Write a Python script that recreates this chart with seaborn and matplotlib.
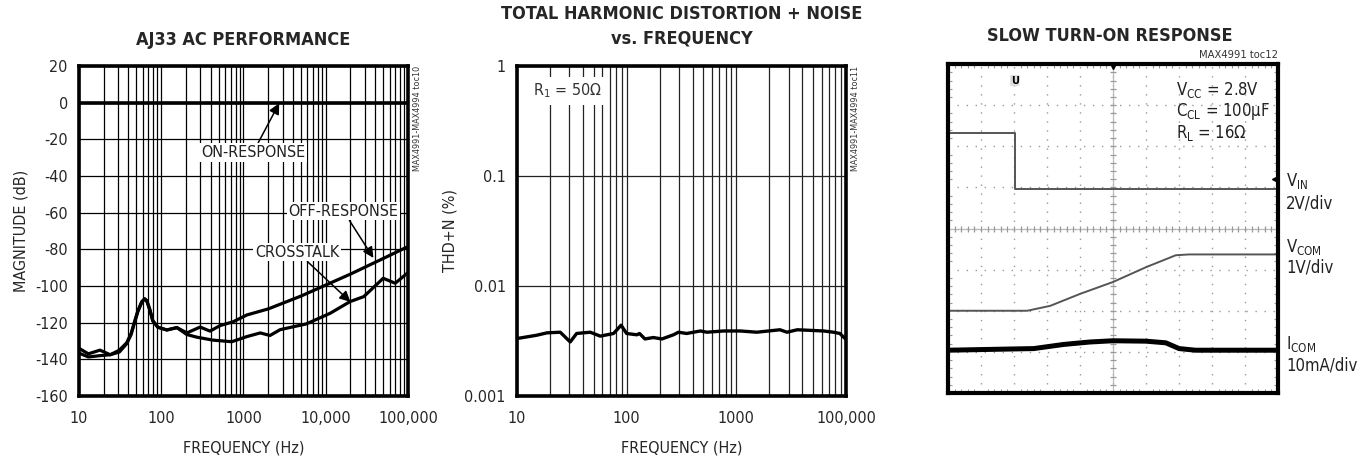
import numpy as np
import pandas as pd
import matplotlib
matplotlib.use("Agg")
import matplotlib.pyplot as plt
import matplotlib.ticker as mticker
from matplotlib import font_manager
import seaborn as sns

# ---- data ----
# AJ33 AC performance
on_freq = [10, 100000]
on_db = [0, 0]
off_freq = [10, 13, 18, 24, 31, 38, 43, 47, 52, 58, 63, 67, 73, 79, 91, 117, 155, 205, 297,
            392, 520, 750, 1100, 2000, 5000, 10000, 20000, 50000, 100000]
off_db = [-134, -137, -135, -137.5, -135, -131, -126, -120, -113.5, -108.5, -107, -108,
          -113, -119, -122.5, -124, -122.7, -125.6, -122.4, -124.6, -121.6, -119.5, -115.8,
          -112.5, -105.5, -99.5, -93.5, -85, -78.5]
xt_freq = [10, 13, 18, 24, 31, 38, 43, 47, 52, 58, 63, 67, 73, 79, 91, 117, 155, 205, 270,
           420, 720, 1100, 1600, 2100, 2800, 5800, 11300, 19800, 29000, 50000, 70000, 100000]
xt_db = [-136.6, -138.7, -138, -137.5, -136, -131.5, -126.5, -120.5, -114, -109, -107,
         -108.5, -113.5, -119, -122.5, -124, -122.7, -126.5, -127.9, -129.5, -130.4, -127.6,
         -125.6, -127, -123.8, -120.7, -114.9, -108.5, -105.8, -95.8, -98.5, -92.7]
mag_xticks = [10, 100, 1000, 10000, 100000]
mag_xlabels = ["10", "100", "1000", "10,000", "100,000"]
mag_yticks = [20, 0, -20, -40, -60, -80, -100, -120, -140, -160]

# THD+N vs frequency
thd_freq = [10, 15, 18.8, 24.8, 30.6, 35, 46.6, 57.5, 76, 89, 100, 124, 131, 147, 175, 210,
            267, 297, 353, 470, 540, 765, 1083, 1540, 2500, 2900, 3600, 6250, 7700, 8800, 9900]
thd_pct = [0.00333, 0.00356, 0.00375, 0.0038, 0.0031, 0.0037, 0.0038, 0.0035, 0.0037, 0.0044,
           0.0037, 0.0036, 0.0037, 0.0033, 0.0034, 0.0033, 0.0036, 0.0038, 0.0037, 0.0039,
           0.0038, 0.0039, 0.0039, 0.0038, 0.004, 0.0038, 0.004, 0.0039, 0.0038, 0.0037, 0.0033]
thd_xticks = [10, 100, 1000, 10000]
thd_xlabels = ["10", "100", "1000", "100,000"]
thd_yticks = [0.001, 0.01, 0.1, 1]
thd_ylabels = ["0.001", "0.01", "0.1", "1"]

# slow turn-on scope traces (divisions)
vin_t = [0, 2.02, 2.02, 10]
vin_v = [6.33, 6.33, 4.96, 4.96]
vcom_t = [0, 2.4, 3.1, 4.0, 5.0, 6.0, 6.9, 7.3, 10]
vcom_v = [2.0, 2.0, 2.12, 2.41, 2.7, 3.06, 3.35, 3.37, 3.37]
icom_t = [0, 2.6, 3.5, 4.3, 5.0, 6.0, 6.6, 7.0, 7.5, 10]
icom_v = [1.04, 1.08, 1.18, 1.24, 1.27, 1.26, 1.22, 1.08, 1.04, 1.04]


def find_narrow():
    # look for any installed narrow / condensed sans face
    for f in font_manager.fontManager.ttflist:
        key = (f.fname + " " + f.name).lower()
        if ("narrow" in key or "condensed" in key) and "serif" not in key \
                and "mono" not in key and f.style == "normal":
            return f.name, f.stretch
    return None, None


sns.set_style("white")
nname, nstretch = find_narrow()
if nname:
    plt.rcParams["font.family"] = [nname, "Liberation Sans", "DejaVu Sans"]
    plt.rcParams["font.stretch"] = nstretch
    FS, TFS = 11.5, 13
    base = nname
else:
    plt.rcParams["font.family"] = ["Liberation Sans", "DejaVu Sans"]
    FS, TFS = 11, 12.5
    base = "Liberation Sans"
plt.rcParams["mathtext.fontset"] = "custom"
plt.rcParams["mathtext.rm"] = base
plt.rcParams["axes.unicode_minus"] = False

fig = plt.figure(figsize=(13.64, 4.58), dpi=100)
ax1 = fig.add_axes([0.0579, 0.1354, 0.2412, 0.7205])
ax2 = fig.add_axes([0.3790, 0.1354, 0.2412, 0.7205])
ax3 = fig.add_axes([0.6950, 0.1420, 0.2420, 0.7180])


def frame(ax, lw=2.6):
    for s in ax.spines.values():
        s.set_visible(True)
        s.set_color("black")
        s.set_linewidth(lw)
        s.set_zorder(5)


# ---------- panel 1 ----------
d_on = pd.DataFrame({"f": on_freq, "db": on_db})
d_off = pd.DataFrame({"f": off_freq, "db": off_db})
d_xt = pd.DataFrame({"f": xt_freq, "db": xt_db})
ax1.set_xscale("log")
for d, w in [(d_on, 2.6), (d_off, 2.3), (d_xt, 2.3)]:
    sns.lineplot(data=d, x="f", y="db", color="black", lw=w, ax=ax1, estimator=None)
ax1.set_xlim(10, 100000)
ax1.set_ylim(-160, 20)
ax1.xaxis.set_major_locator(mticker.FixedLocator(mag_xticks))
ax1.xaxis.set_minor_locator(mticker.LogLocator(base=10, subs=np.arange(2, 10)))
ax1.xaxis.set_minor_formatter(mticker.NullFormatter())
ax1.set_xticklabels(mag_xlabels)
ax1.set_yticks(mag_yticks)
ax1.grid(True, which="both", axis="x", color="black", lw=0.9)
ax1.grid(True, which="major", axis="y", color="black", lw=0.9)
ax1.tick_params(which="both", length=0, labelsize=FS, pad=8)
ax1.tick_params(axis="x", pad=11)
ax1.set_xlabel("FREQUENCY (Hz)", fontsize=FS, labelpad=10)
ax1.set_ylabel("MAGNITUDE (dB)", fontsize=FS, labelpad=5)
ax1.set_title("AJ33 AC PERFORMANCE", fontsize=TFS, fontweight="bold", pad=15)
frame(ax1)
box = dict(boxstyle="square,pad=0.12", fc="white", ec="none")
arw = dict(arrowstyle="-|>", color="black", lw=1.1, mutation_scale=16, shrinkA=0, shrinkB=0)
ax1.annotate("ON-RESPONSE", xy=(2720, -0.3), xytext=(1313, -27), ha="center", va="center",
             fontsize=FS, color="#222", bbox=box, arrowprops=arw, zorder=6)
ax1.annotate("OFF-RESPONSE", xy=(38000, -84.7), xytext=(16400, -59.1), ha="center",
             va="center", fontsize=FS, color="#222", bbox=box, arrowprops=arw, zorder=6)
ax1.annotate("CROSSTALK", xy=(20000, -108.7), xytext=(4520, -81.5), ha="center",
             va="center", fontsize=FS, color="#222", bbox=box, arrowprops=arw, zorder=6)
ax1.text(1.028, 1.0, "MAX4991-MAX4994 toc10", transform=ax1.transAxes, rotation=90,
         ha="center", va="top", fontsize=6.5, color="#333")

# ---------- panel 2 ----------
d_thd = pd.DataFrame({"f": thd_freq, "p": thd_pct})
ax2.set_xscale("log")
ax2.set_yscale("log")
sns.lineplot(data=d_thd, x="f", y="p", color="black", lw=2.4, ax=ax2, estimator=None)
ax2.set_xlim(10, 10000)
ax2.set_ylim(0.001, 1)
ax2.xaxis.set_major_locator(mticker.FixedLocator(thd_xticks))
ax2.xaxis.set_minor_locator(mticker.LogLocator(base=10, subs=np.arange(2, 10)))
ax2.xaxis.set_minor_formatter(mticker.NullFormatter())
ax2.set_xticklabels(thd_xlabels)
ax2.yaxis.set_major_locator(mticker.FixedLocator(thd_yticks))
ax2.yaxis.set_minor_locator(mticker.NullLocator())
ax2.set_yticklabels(thd_ylabels)
ax2.grid(True, which="both", axis="x", color="#222", lw=0.9)
ax2.grid(True, which="major", axis="y", color="#222", lw=0.9)
ax2.tick_params(which="both", length=0, labelsize=FS, pad=8)
ax2.tick_params(axis="x", pad=11)
ax2.set_xlabel("FREQUENCY (Hz)", fontsize=FS, labelpad=10)
ax2.set_ylabel("THD+N (%)", fontsize=FS, labelpad=5)
ax2.set_title("TOTAL HARMONIC DISTORTION + NOISE\nvs. FREQUENCY", fontsize=TFS,
              fontweight="bold", pad=16, linespacing=1.45)
frame(ax2)
ax2.text(0.05, 0.925, r"R$_{\mathregular{1}}$ = 50Ω", transform=ax2.transAxes, ha="left",
         va="center", fontsize=FS, color="#333",
         bbox=dict(boxstyle="square,pad=0.3", fc="white", ec="none"), zorder=6)
ax2.text(1.028, 1.0, "MAX4991-MAX4994 toc11", transform=ax2.transAxes, rotation=90,
         ha="center", va="top", fontsize=6.5, color="#333")

# ---------- panel 3 ----------
d_vin = pd.DataFrame({"t": vin_t, "v": vin_v})
d_vcom = pd.DataFrame({"t": vcom_t, "v": vcom_v})
d_icom = pd.DataFrame({"t": icom_t, "v": icom_v})
sns.lineplot(data=d_vin, x="t", y="v", color="#555", lw=1.4, ax=ax3, sort=False, estimator=None)
sns.lineplot(data=d_vcom, x="t", y="v", color="#555", lw=1.4, ax=ax3, sort=False, estimator=None)
sns.lineplot(data=d_icom, x="t", y="v", color="black", lw=3.6, ax=ax3, sort=False, estimator=None)
ax3.set_xlim(0, 10)
ax3.set_ylim(0, 8)
ax3.set_xticks(range(11))
ax3.set_yticks(range(9))
ax3.xaxis.set_minor_locator(mticker.MultipleLocator(0.2))
ax3.yaxis.set_minor_locator(mticker.MultipleLocator(0.2))
ax3.grid(True, which="major", color="#999", lw=1.0, ls=(0, (1, 5.5)))
ax3.axvline(5, color="#bbb", lw=0.9, zorder=1)
ax3.axhline(4, color="#bbb", lw=0.9, zorder=1)
ax3.plot(np.arange(0, 10.01, 0.2), np.full(51, 4.0), ls="none", marker="|", ms=5,
         color="#999", mew=0.9, zorder=1)
ax3.plot(np.full(41, 5.0), np.arange(0, 8.01, 0.2), ls="none", marker="_", ms=5,
         color="#999", mew=0.9, zorder=1)
ax3.tick_params(which="both", direction="in", top=True, right=True, bottom=True,
                left=True, labelbottom=False, labelleft=False, color="#999")
ax3.tick_params(which="major", length=0)
ax3.tick_params(which="minor", length=3, width=0.8)
ax3.set_xlabel("")
ax3.set_ylabel("")
ax3.set_title("SLOW TURN-ON RESPONSE", fontsize=TFS, fontweight="bold", pad=17, x=0.49)
frame(ax3, lw=3.0)
ax3.text(1.0, 1.012, "MAX4991 toc12", transform=ax3.transAxes, ha="right", va="bottom",
         fontsize=8, color="#333")
ax3.plot([5], [7.95], marker="v", ms=5, color="black", clip_on=False, zorder=6)
ax3.plot([9.9], [5.2], marker="<", ms=5, color="black", clip_on=False, zorder=6)
ax3.text(2.02, 7.6, "U", ha="center", va="center", fontsize=8, fontweight="bold",
         color="black", bbox=dict(boxstyle="round,pad=0.05", fc="#ddd", ec="none"))
info = [r"V$_{\mathregular{CC}}$ = 2.8V", r"C$_{\mathregular{CL}}$ = 100µF",
        r"R$_{\mathregular{L}}$ = 16Ω"]
for k, s in enumerate(info):
    ax3.text(0.69, 0.922 - 0.066 * k, s, transform=ax3.transAxes, ha="left", va="center",
             fontsize=FS + 0.5, color="#222")
side = [(0.645, r"V$_{\mathregular{IN}}$"), (0.577, "2V/div"),
        (0.445, r"V$_{\mathregular{COM}}$"), (0.383, "1V/div"),
        (0.15, r"I$_{\mathregular{COM}}$"), (0.085, "10mA/div")]
for yy, s in side:
    ax3.text(1.025, yy, s, transform=ax3.transAxes, ha="left", va="center", fontsize=FS + 0.5,
             color="#222")

fig.savefig("out.png", dpi=100)
